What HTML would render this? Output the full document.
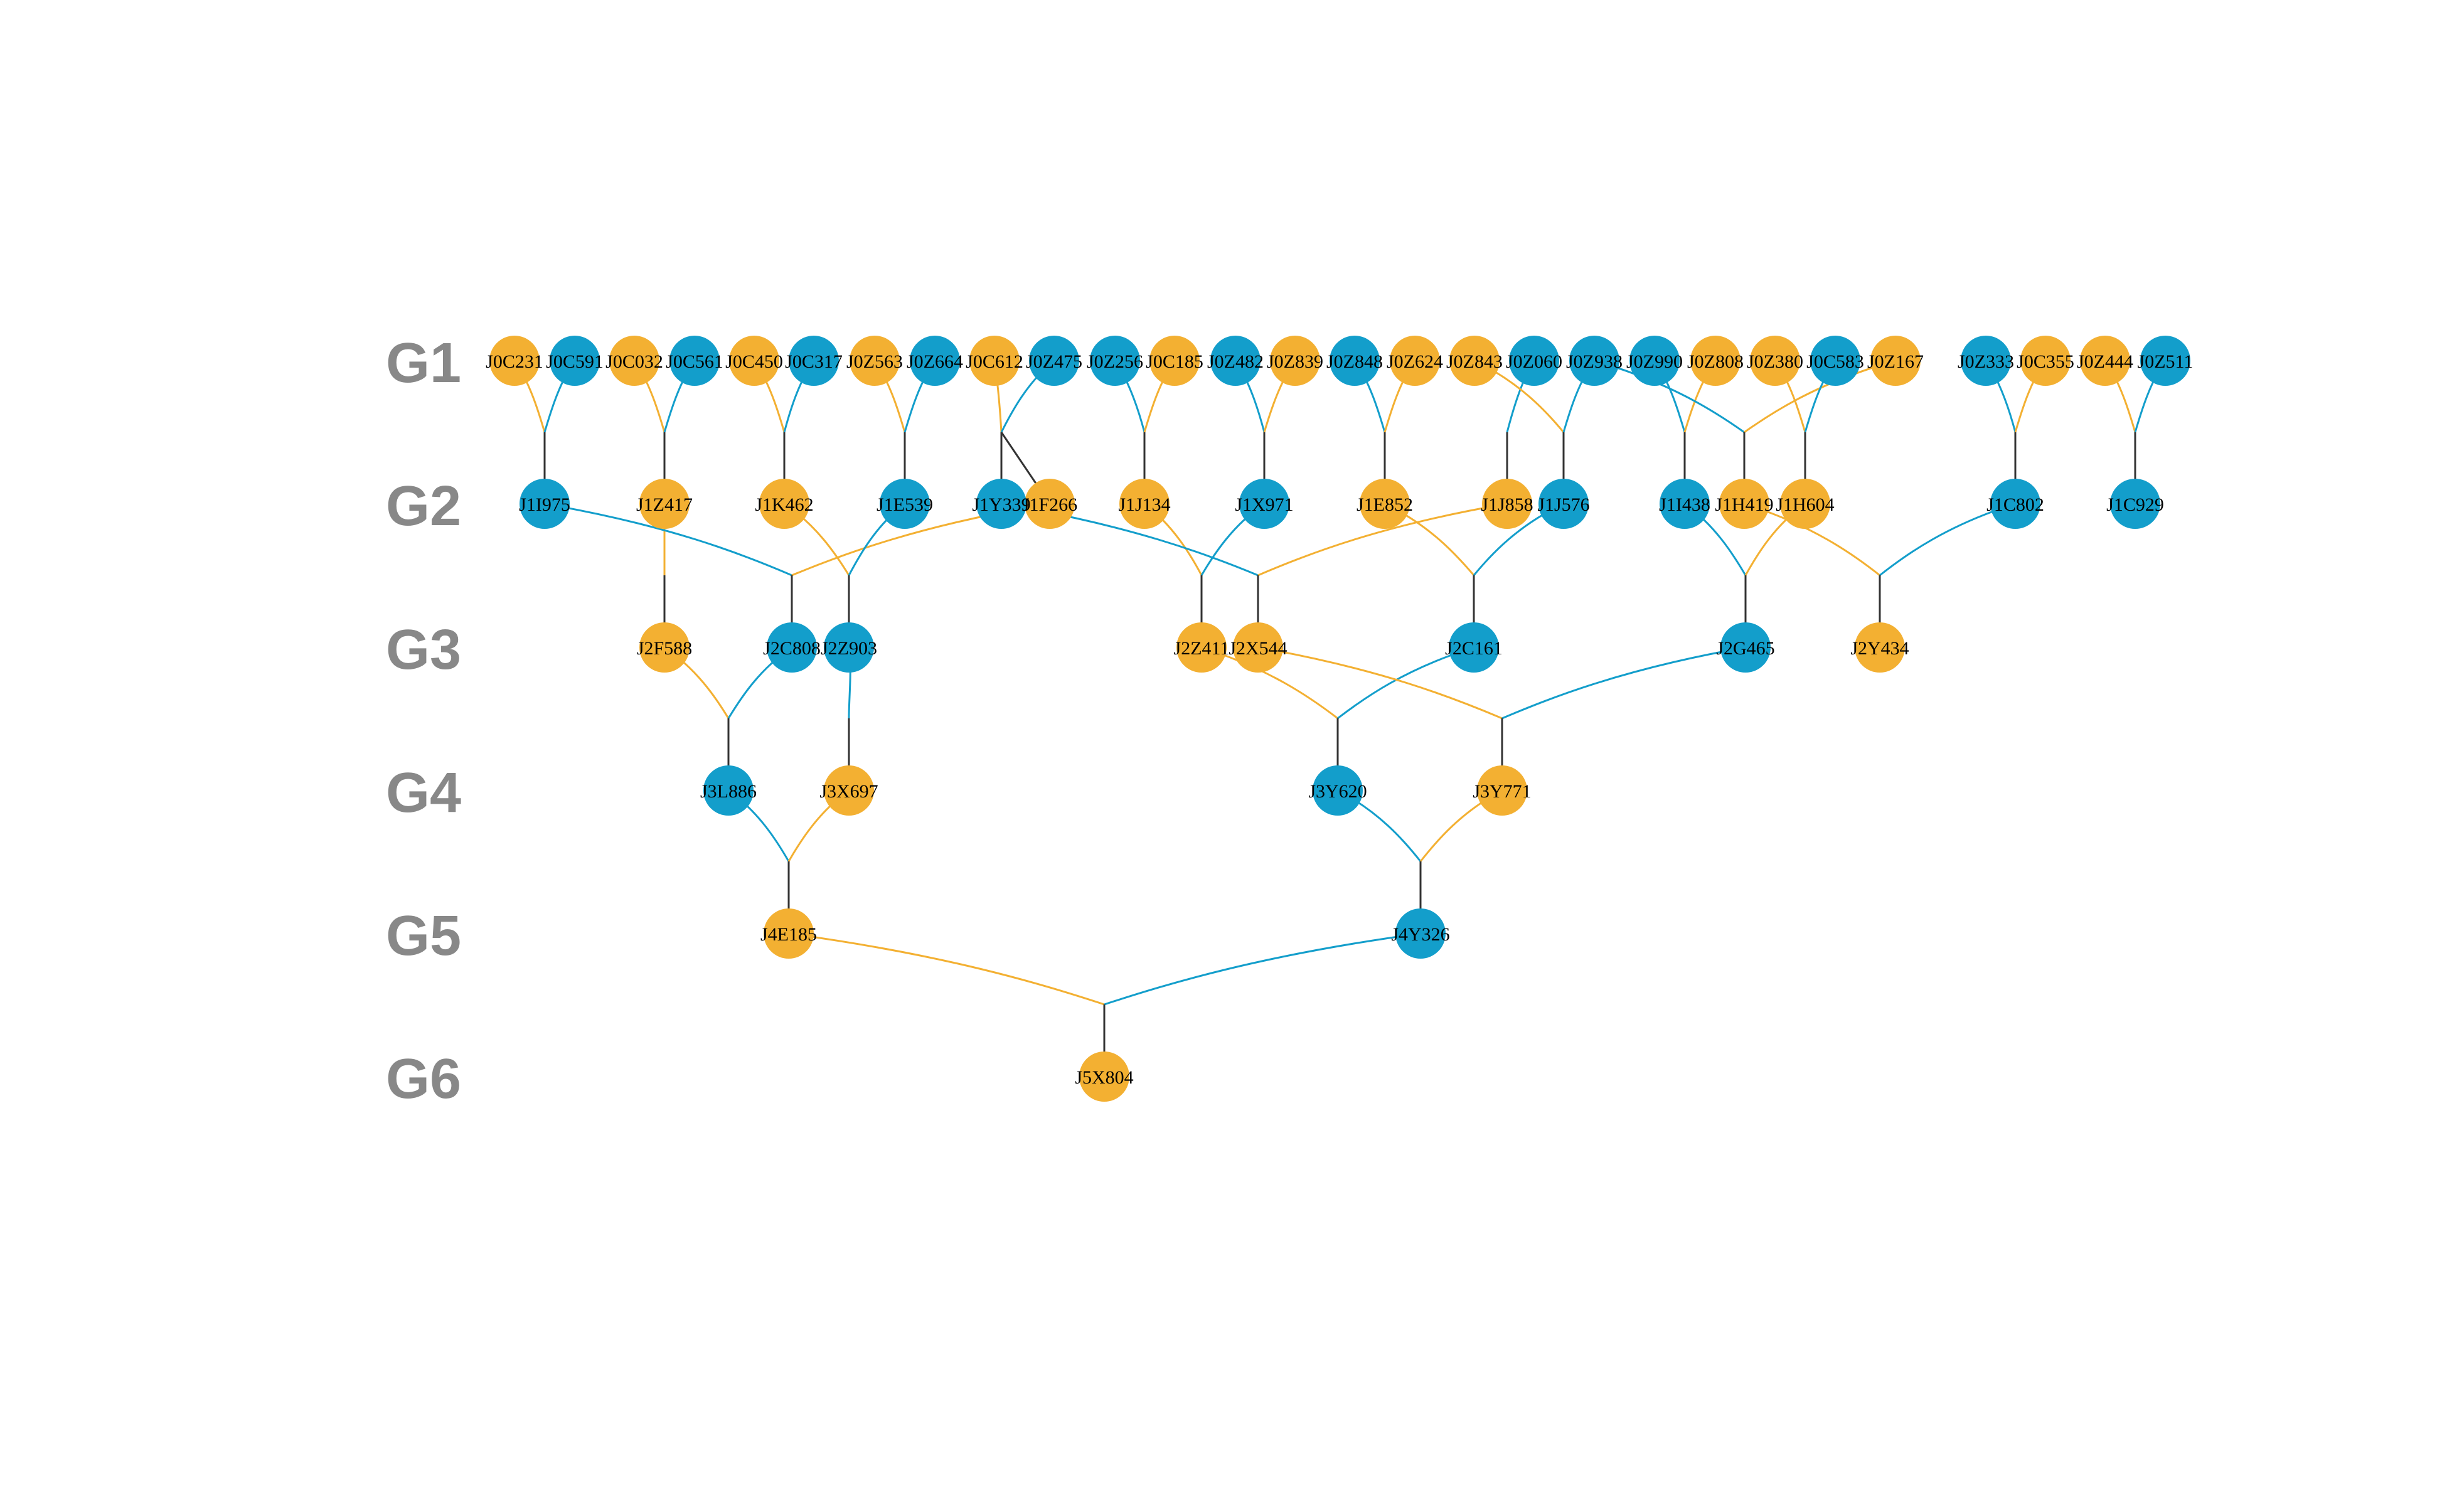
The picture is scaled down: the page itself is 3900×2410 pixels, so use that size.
<!DOCTYPE html>
<html><head><meta charset="utf-8"><style>
html,body{margin:0;padding:0;background:#fff;}
svg{display:block;}
.n{font-family:"Liberation Serif",serif;font-size:30px;fill:#000;text-anchor:middle;}
.g{font-family:"Liberation Sans",sans-serif;font-weight:bold;font-size:90px;fill:#888;}
.o{stroke:#F3B032;fill:none;stroke-width:3;}
.b{stroke:#139ECB;fill:none;stroke-width:3;}
.k{stroke:#333;stroke-width:3;}
</style></head><body>
<svg width="3900" height="2410" viewBox="0 0 3900 2410" xmlns="http://www.w3.org/2000/svg">
<rect width="3900" height="2410" fill="#fff"/>
<g>
<text class="g" x="615" y="609">G1</text>
<text class="g" x="615" y="837">G2</text>
<text class="g" x="615" y="1066">G3</text>
<text class="g" x="615" y="1294">G4</text>
<text class="g" x="615" y="1522">G5</text>
<text class="g" x="615" y="1750">G6</text>
</g>
<path class="o" d="M820 575 C844 609 858 655 868 689"/>
<path class="b" d="M916 575 C892 609 878 655 868 689"/>
<path class="o" d="M1011 575 C1035 609 1049 655 1059 689"/>
<path class="b" d="M1107 575 C1083 609 1069 655 1059 689"/>
<path class="o" d="M1202 575 C1226 609 1240 655 1250 689"/>
<path class="b" d="M1297 575 C1273 609 1259 655 1250 689"/>
<path class="o" d="M1394 575 C1418 609 1432 655 1442 689"/>
<path class="b" d="M1490 575 C1466 609 1452 655 1442 689"/>
<path class="o" d="M1585 575 C1590 609 1594 655 1596 689"/>
<path class="b" d="M1680 575 C1638 609 1613 655 1596 689"/>
<path class="b" d="M1777 575 C1800 609 1815 655 1824 689"/>
<path class="o" d="M1872 575 C1848 609 1834 655 1824 689"/>
<path class="b" d="M1969 575 C1992 609 2006 655 2015 689"/>
<path class="o" d="M2064 575 C2040 609 2025 655 2015 689"/>
<path class="b" d="M2159 575 C2183 609 2197 655 2207 689"/>
<path class="o" d="M2255 575 C2231 609 2217 655 2207 689"/>
<path class="b" d="M2445 575 C2424 609 2411 655 2402 689"/>
<path class="o" d="M2350 575 C2421 609 2464 655 2492 689"/>
<path class="b" d="M2541 575 C2516 609 2502 655 2492 689"/>
<path class="b" d="M2637 575 C2661 609 2675 655 2685 689"/>
<path class="o" d="M2734 575 C2710 609 2695 655 2685 689"/>
<path class="b" d="M2541 575 C2660 609 2732 655 2780 689"/>
<path class="o" d="M3021 575 C2900 609 2828 655 2780 689"/>
<path class="o" d="M2829 575 C2853 609 2867 655 2877 689"/>
<path class="b" d="M2925 575 C2901 609 2887 655 2877 689"/>
<path class="b" d="M3165 575 C3188 609 3203 655 3212 689"/>
<path class="o" d="M3260 575 C3236 609 3222 655 3212 689"/>
<path class="o" d="M3355 575 C3379 609 3393 655 3403 689"/>
<path class="b" d="M3451 575 C3427 609 3413 655 3403 689"/>
<g class="k">
<line x1="868" y1="689" x2="868" y2="803"/><line x1="1059" y1="689" x2="1059" y2="803"/>
<line x1="1250" y1="689" x2="1250" y2="803"/><line x1="1442" y1="689" x2="1442" y2="803"/>
<line x1="1596" y1="689" x2="1596" y2="803"/><line x1="1596" y1="689" x2="1673" y2="803"/>
<line x1="1824" y1="689" x2="1824" y2="803"/><line x1="2015" y1="689" x2="2015" y2="803"/>
<line x1="2207" y1="689" x2="2207" y2="803"/><line x1="2402" y1="689" x2="2402" y2="803"/>
<line x1="2492" y1="689" x2="2492" y2="803"/><line x1="2685" y1="689" x2="2685" y2="803"/>
<line x1="2780" y1="689" x2="2780" y2="803"/><line x1="2877" y1="689" x2="2877" y2="803"/>
<line x1="3212" y1="689" x2="3212" y2="803"/><line x1="3403" y1="689" x2="3403" y2="803"/>
</g>
<path class="o" d="M1059 803 L1059 917"/>
<path class="b" d="M868 803 C1065 837 1183 883 1262 917"/>
<path class="o" d="M1673 803 C1467 837 1344 883 1262 917"/>
<path class="o" d="M1250 803 C1301 837 1332 883 1353 917"/>
<path class="b" d="M1442 803 C1397 837 1371 883 1353 917"/>
<path class="o" d="M1824 803 C1869 837 1897 883 1915 917"/>
<path class="b" d="M2015 803 C1965 837 1935 883 1915 917"/>
<path class="b" d="M1596 803 C1800 837 1923 883 2005 917"/>
<path class="o" d="M2402 803 C2203 837 2084 883 2005 917"/>
<path class="o" d="M2207 803 C2278 837 2320 883 2349 917"/>
<path class="b" d="M2492 803 C2420 837 2377 883 2349 917"/>
<path class="b" d="M2685 803 C2733 837 2762 883 2782 917"/>
<path class="o" d="M2877 803 C2829 837 2801 883 2782 917"/>
<path class="o" d="M2780 803 C2888 837 2953 883 2996 917"/>
<path class="b" d="M3212 803 C3104 837 3039 883 2996 917"/>
<g class="k">
<line x1="1059" y1="917" x2="1059" y2="1032"/><line x1="1262" y1="917" x2="1262" y2="1032"/>
<line x1="1353" y1="917" x2="1353" y2="1032"/><line x1="1915" y1="917" x2="1915" y2="1032"/>
<line x1="2005" y1="917" x2="2005" y2="1032"/><line x1="2349" y1="917" x2="2349" y2="1032"/>
<line x1="2782" y1="917" x2="2782" y2="1032"/><line x1="2996" y1="917" x2="2996" y2="1032"/>
</g>
<path class="o" d="M1059 1032 C1110 1066 1141 1112 1161 1145"/>
<path class="b" d="M1262 1032 C1211 1066 1181 1112 1161 1145"/>
<path class="b" d="M1353 1032 C1358 1066 1353 1112 1353 1145"/>
<path class="o" d="M1915 1032 C2023 1066 2089 1112 2132 1145"/>
<path class="b" d="M2349 1032 C2240 1066 2175 1112 2132 1145"/>
<path class="o" d="M2005 1032 C2199 1066 2316 1112 2394 1145"/>
<path class="b" d="M2782 1032 C2588 1066 2472 1112 2394 1145"/>
<g class="k">
<line x1="1161" y1="1145" x2="1161" y2="1260"/><line x1="1353" y1="1145" x2="1353" y2="1260"/>
<line x1="2132" y1="1145" x2="2132" y2="1260"/><line x1="2394" y1="1145" x2="2394" y2="1260"/>
</g>
<path class="b" d="M1161 1260 C1209 1294 1238 1340 1257 1373"/>
<path class="o" d="M1353 1260 C1305 1294 1276 1340 1257 1373"/>
<path class="b" d="M2132 1260 C2198 1294 2238 1340 2264 1373"/>
<path class="o" d="M2394 1260 C2329 1294 2290 1340 2264 1373"/>
<g class="k">
<line x1="1257" y1="1373" x2="1257" y2="1488"/><line x1="2264" y1="1373" x2="2264" y2="1488"/>
</g>
<path class="o" d="M1257 1488 C1508 1522 1659 1568 1760 1601"/>
<path class="b" d="M2264 1488 C2012 1522 1861 1568 1760 1601"/>
<line class="k" x1="1760" y1="1601" x2="1760" y2="1716"/>

<g fill="#F3B032">
<circle cx="820" cy="575" r="40"/><circle cx="1011" cy="575" r="40"/><circle cx="1202" cy="575" r="40"/>
<circle cx="1394" cy="575" r="40"/><circle cx="1585" cy="575" r="40"/><circle cx="1872" cy="575" r="40"/>
<circle cx="2064" cy="575" r="40"/><circle cx="2255" cy="575" r="40"/><circle cx="2350" cy="575" r="40"/>
<circle cx="2734" cy="575" r="40"/><circle cx="2829" cy="575" r="40"/><circle cx="3021" cy="575" r="40"/>
<circle cx="3260" cy="575" r="40"/><circle cx="3355" cy="575" r="40"/>
<circle cx="1059" cy="803" r="40"/><circle cx="1250" cy="803" r="40"/><circle cx="1673" cy="803" r="40"/>
<circle cx="1824" cy="803" r="40"/><circle cx="2207" cy="803" r="40"/><circle cx="2402" cy="803" r="40"/>
<circle cx="2780" cy="803" r="40"/><circle cx="2877" cy="803" r="40"/>
<circle cx="1059" cy="1032" r="40"/><circle cx="1915" cy="1032" r="40"/><circle cx="2005" cy="1032" r="40"/>
<circle cx="2996" cy="1032" r="40"/>
<circle cx="1353" cy="1260" r="40"/><circle cx="2394" cy="1260" r="40"/>
<circle cx="1257" cy="1488" r="40"/>
<circle cx="1760" cy="1716" r="40"/>
</g>
<g fill="#139ECB">
<circle cx="916" cy="575" r="40"/><circle cx="1107" cy="575" r="40"/><circle cx="1297" cy="575" r="40"/>
<circle cx="1490" cy="575" r="40"/><circle cx="1680" cy="575" r="40"/><circle cx="1777" cy="575" r="40"/>
<circle cx="1969" cy="575" r="40"/><circle cx="2159" cy="575" r="40"/><circle cx="2445" cy="575" r="40"/>
<circle cx="2541" cy="575" r="40"/><circle cx="2637" cy="575" r="40"/><circle cx="2925" cy="575" r="40"/>
<circle cx="3165" cy="575" r="40"/><circle cx="3451" cy="575" r="40"/>
<circle cx="868" cy="803" r="40"/><circle cx="1442" cy="803" r="40"/><circle cx="1596" cy="803" r="40"/>
<circle cx="2015" cy="803" r="40"/><circle cx="2492" cy="803" r="40"/><circle cx="2685" cy="803" r="40"/>
<circle cx="3212" cy="803" r="40"/><circle cx="3403" cy="803" r="40"/>
<circle cx="1262" cy="1032" r="40"/><circle cx="1353" cy="1032" r="40"/><circle cx="2349" cy="1032" r="40"/>
<circle cx="2782" cy="1032" r="40"/>
<circle cx="1161" cy="1260" r="40"/><circle cx="2132" cy="1260" r="40"/>
<circle cx="2264" cy="1488" r="40"/>
</g>
<g class="n">
<text x="820" y="586">J0C231</text><text x="916" y="586">J0C591</text><text x="1011" y="586">J0C032</text>
<text x="1107" y="586">J0C561</text><text x="1202" y="586">J0C450</text><text x="1297" y="586">J0C317</text>
<text x="1394" y="586">J0Z563</text><text x="1490" y="586">J0Z664</text><text x="1585" y="586">J0C612</text>
<text x="1680" y="586">J0Z475</text><text x="1777" y="586">J0Z256</text><text x="1872" y="586">J0C185</text>
<text x="1969" y="586">J0Z482</text><text x="2064" y="586">J0Z839</text><text x="2159" y="586">J0Z848</text>
<text x="2255" y="586">J0Z624</text><text x="2350" y="586">J0Z843</text><text x="2445" y="586">J0Z060</text>
<text x="2541" y="586">J0Z938</text><text x="2637" y="586">J0Z990</text><text x="2734" y="586">J0Z808</text>
<text x="2829" y="586">J0Z380</text><text x="2925" y="586">J0C583</text><text x="3021" y="586">J0Z167</text>
<text x="3165" y="586">J0Z333</text><text x="3260" y="586">J0C355</text><text x="3355" y="586">J0Z444</text>
<text x="3451" y="586">J0Z511</text>
<text x="868" y="814">J1I975</text><text x="1059" y="814">J1Z417</text><text x="1250" y="814">J1K462</text>
<text x="1442" y="814">J1E539</text><text x="1596" y="814">J1Y339</text><text x="1673" y="814">J1F266</text>
<text x="1824" y="814">J1J134</text><text x="2015" y="814">J1X971</text><text x="2207" y="814">J1E852</text>
<text x="2402" y="814">J1J858</text><text x="2492" y="814">J1J576</text><text x="2685" y="814">J1I438</text>
<text x="2780" y="814">J1H419</text><text x="2877" y="814">J1H604</text><text x="3212" y="814">J1C802</text>
<text x="3403" y="814">J1C929</text>
<text x="1059" y="1043">J2F588</text><text x="1262" y="1043">J2C808</text><text x="1353" y="1043">J2Z903</text>
<text x="1915" y="1043">J2Z411</text><text x="2005" y="1043">J2X544</text><text x="2349" y="1043">J2C161</text>
<text x="2782" y="1043">J2G465</text><text x="2996" y="1043">J2Y434</text>
<text x="1161" y="1271">J3L886</text><text x="1353" y="1271">J3X697</text>
<text x="2132" y="1271">J3Y620</text><text x="2394" y="1271">J3Y771</text>
<text x="1257" y="1499">J4E185</text><text x="2264" y="1499">J4Y326</text>
<text x="1760" y="1727">J5X804</text>
</g>
</svg>
</body></html>
